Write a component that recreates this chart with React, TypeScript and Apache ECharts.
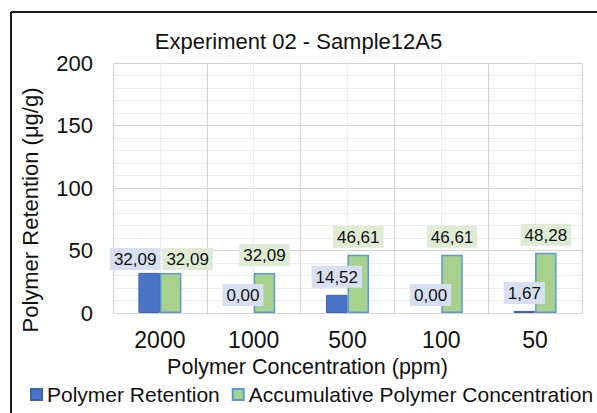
import React, { useEffect, useRef } from "react";
import * as echarts from "echarts";

const titleText = "Experiment 02 - Sample12A5";
const categories = ["2000", "1000", "500", "100", "50"];
const retention = [32.09, 0.0, 14.52, 0.0, 1.67];
const accumulative = [32.09, 32.09, 46.61, 46.61, 48.28];
const seriesNames = ["Polymer Retention", "Accumulative Polymer Concentration"];
const yTicks = { min: 0, max: 200, interval: 50 };

const FONT = "'Liberation Sans', Arial, sans-serif";
const MAJOR = "#D4D4D4";
const MINOR = "#ECECEC";

export default function App() {
  const ref = useRef<HTMLDivElement>(null);
  useEffect(() => {
    if (!ref.current) return;
    const chart = echarts.init(ref.current, null, { renderer: "svg" });
    const fmt = (v: number) => v.toFixed(2).replace(".", ",");
    const blueData = retention.map((v, i) => {
      const d: any = { value: v };
      if (i === 0) d.label = { offset: [-14, 4] };
      if (v === 0) d.itemStyle = { borderWidth: 0 };
      return d;
    });
    const greenData = accumulative.map((v, i) =>
      i === 0 ? { value: v, label: { offset: [17, 4] } } : { value: v }
    );
    const labelBase = {
      show: true,
      position: "top",
      distance: 7,
      fontFamily: FONT,
      fontSize: 17,
      color: "#111",
      padding: [3, 4, 2, 4],
      formatter: (p: any) => fmt(p.value),
    };
    chart.setOption({
      animation: false,
      backgroundColor: "#fff",
      title: {
        text: titleText,
        left: "center",
        top: 25,
        textStyle: { fontFamily: FONT, fontSize: 22, fontWeight: "normal", color: "#111" },
      },
      legend: {
        left: 30,
        top: 384,
        width: 570,
        padding: 0,
        icon: "rect",
        itemWidth: 11,
        itemHeight: 11,
        itemGap: 12,
        textStyle: { fontFamily: FONT, fontSize: 21, color: "#111" },
        data: seriesNames,
      },
      grid: { left: 113, right: 15, top: 63, bottom: 100, containLabel: false },
      xAxis: [
        {
          type: "category",
          data: categories,
          z: 1,
          axisLine: { show: true, lineStyle: { color: MAJOR } },
          axisTick: { show: false },
          splitLine: { show: false },
          axisLabel: { fontFamily: FONT, fontSize: 23, color: "#111", margin: 15 },
          name: "Polymer Concentration (ppm)",
          nameLocation: "middle",
          nameGap: 43,
          nameTextStyle: { fontFamily: FONT, fontSize: 21.5, color: "#111", padding: [0, 80, 0, 0] },
        },
        {
          type: "value",
          min: 0,
          max: 10,
          interval: 1,
          position: "top",
          z: 0,
          axisLine: { show: false },
          axisTick: { show: false },
          axisLabel: { show: false },
          splitLine: { show: true, lineStyle: { color: [MAJOR, MINOR], width: 1 } },
        },
      ],
      yAxis: {
        type: "value",
        min: yTicks.min,
        max: yTicks.max,
        interval: yTicks.interval,
        axisLine: { show: false },
        axisTick: { show: false },
        axisLabel: { fontFamily: FONT, fontSize: 22, color: "#111", margin: 20 },
        splitLine: { show: true, lineStyle: { color: MAJOR } },
        minorTick: { show: false, splitNumber: 5 },
        minorSplitLine: { show: true, lineStyle: { color: MINOR } },
        name: "Polymer Retention (μg/g)",
        nameLocation: "middle",
        nameGap: 72,
        nameTextStyle: { fontFamily: FONT, fontSize: 22, color: "#111", padding: [0, 44, 0, 0] },
      },
      series: [
        {
          name: seriesNames[0],
          type: "bar",
          xAxisIndex: 0,
          barWidth: 21.5,
          barGap: "0%",
          data: blueData,
          itemStyle: { color: "#4A74C6", borderColor: "#3B62AE", borderWidth: 1 },
          label: { ...labelBase, backgroundColor: "#D7E0F1" },
        },
        {
          name: seriesNames[1],
          type: "bar",
          xAxisIndex: 0,
          barWidth: 21.5,
          barGap: "0%",
          data: greenData,
          itemStyle: { color: "#A9D18E", borderColor: "#5B9BD5", borderWidth: 1.5 },
          label: { ...labelBase, backgroundColor: "#DEECD5" },
        },
      ],
      graphic: [
        { type: "line", shape: { x1: 11, y1: 12, x2: 597, y2: 12 }, style: { stroke: "#1a1a1a", lineWidth: 2 } },
        { type: "line", shape: { x1: 11, y1: 12, x2: 11, y2: 413 }, style: { stroke: "#1a1a1a", lineWidth: 2 } },
      ],
    });
    return () => chart.dispose();
  }, []);
  return (
    <div
      ref={ref}
      style={{ position: "fixed", left: 0, top: 0, width: 597, height: 413 }}
    />
  );
}
